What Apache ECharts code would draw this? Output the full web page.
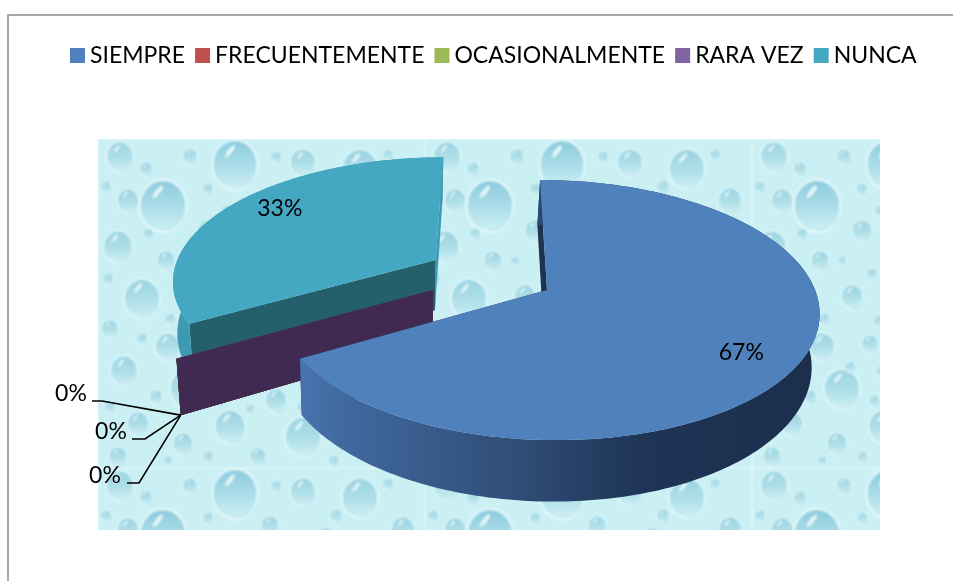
<!DOCTYPE html>
<html>
<head>
<meta charset="utf-8">
<style>html,body{margin:0;padding:0;background:#fff}#c{width:953px;height:581px}</style>
<script src="https://cdn.jsdelivr.net/npm/echarts@6/dist/echarts.min.js"></script>
</head>
<body>
<div id="c"></div>
<script>
// ---- data ----
var categories = ['SIEMPRE', 'FRECUENTEMENTE', 'OCASIONALMENTE', 'RARA VEZ', 'NUNCA'];
var values = [2, 0, 0, 0, 1];
var percentLabels = ['67%', '0%', '0%', '0%', '33%'];

// ---- styles ----
var topColors = ['#4F81BD', '#C0504D', '#9BBB59', '#8064A2', '#45A8C3'];
var faceColors = ['#1D3350', '#6b2b2a', '#55692f', '#402A52', '#23606C'];
var endFaceColors = ['#1D3350', '#6b2b2a', '#55692f', '#402A52', '#3E9AB3'];
var wallColors = ['', '#8e3b39', '#6f8a40', '#54406f', '#3E9AB3'];
// ---- layout of the projected, exploded pie ----
var CX = 547, CY = 290, RX = 268, RY = 127, K = 0.154, SKEW = 8, H = 52, XC = 400, CONV = 0.019;
var explode = [[0, 0], [-0.425, 0], [-0.425, 0], [-0.425, 0], [-0.424, -0.245]];
var drawOrder = [6, 2, 3, 4, 1];
var labelAnchor = [[0.66, 0.46], null, null, null, [-1.085, -0.71]];
var leaders = [null,
  {tx: 111, ty: 432, elbow: [145, 439], end: [132, 439]},
  {tx: 105, ty: 476, elbow: [139, 483], end: [127, 483]},
  {tx: 71, ty: 394, elbow: [102, 401], end: [92, 401]},
  null];

var total = values.reduce(function (a, b) { return a + b; }, 0);

function project(u, v, z) {
  var s = 1 / (1 - K * v);
  var x = CX + RX * u * s + SKEW * v * s;
  var y = CY + RY * v * s;
  if (z) { x = x - (x - XC) * CONV; y = y + H * s; }
  return [x, y];
}
function rim(idx, theta, z) {
  var e = explode[idx];
  return project(Math.sin(theta) + e[0], -Math.cos(theta) + e[1], z);
}
function apex(idx, z) { return project(explode[idx][0], explode[idx][1], z); }

function renderSlice(params) {
  var i = params.seriesIndex;
  var before = 0;
  for (var n = 0; n < i; n++) before += values[n];
  var a0 = before / total * Math.PI * 2;
  var a1 = (before + values[i]) / total * Math.PI * 2;
  var steps = Math.max(1, Math.round((a1 - a0) / 0.02));
  var topPts = [], botPts = [];
  for (var k = 0; k <= steps; k++) {
    var t = a0 + (a1 - a0) * k / steps;
    topPts.push(rim(i, t, false));
    botPts.push(rim(i, t, true));
  }
  var kids = [];
  var wallFill = i === 0 ? new echarts.graphic.LinearGradient(0, 0, 1, 0, [
    {offset: 0, color: '#4873AE'}, {offset: 0.12, color: '#3F659A'},
    {offset: 0.42, color: '#2F4D76'}, {offset: 0.65, color: '#1F3556'}, {offset: 1, color: '#1B2E4C'}
  ]) : wallColors[i];
  // cut faces first, then the outer wall, then the top
  var ap = apex(i, false), apb = apex(i, true);
  kids.push({type: 'polygon', shape: {points: [ap, topPts[steps], botPts[steps], apb]}, style: {fill: endFaceColors[i]}});
  kids.push({type: 'polygon', shape: {points: [ap, topPts[0], botPts[0], apb]}, style: {fill: faceColors[i]}});
  if (a1 > a0) {
    kids.push({type: 'polygon', shape: {points: topPts.concat(botPts.slice().reverse())}, style: {fill: wallFill}});
    kids.push({type: 'polygon', shape: {points: [ap].concat(topPts)}, style: {fill: topColors[i]}});
  }
  // labels
  var font = '23px Lato';
  if (labelAnchor[i]) {
    var p = project(labelAnchor[i][0], labelAnchor[i][1], false);
    kids.push({type: 'text', style: {x: p[0], y: p[1], text: percentLabels[i], fill: '#000', font: font, align: 'center', verticalAlign: 'middle'}, z2: 50});
  }
  if (leaders[i]) {
    var L = leaders[i];
    var tip = rim(i, a0, true);
    kids.push({type: 'polyline', shape: {points: [tip, L.elbow, L.end]}, style: {stroke: '#000', lineWidth: 1.6, fill: 'none'}, z2: 40});
    kids.push({type: 'text', style: {x: L.tx, y: L.ty, text: percentLabels[i], fill: '#000', font: font, align: 'center', verticalAlign: 'middle'}, z2: 50});
  }
  return {type: 'group', children: kids};
}

// ---- water-drop backdrop texture ----
var dropTile = [
  [65,67,26],[137,26,25],[22,18,15],[205,24,14],[262,30,20],[305,62,13],[92,18,8],[172,58,10],
  [228,72,12],[30,62,12],[110,92,11],[262,88,11],[312,112,16],[20,108,16],[68,122,10],[150,112,18],
  [205,118,10],[250,130,18],[44,160,20],[100,158,12],[155,172,22],[212,165,14],[290,165,14],[12,190,9],
  [70,208,14],[118,205,9],[260,204,18],[205,210,20],[310,215,11],[26,232,15],[150,238,11],[90,250,20],
  [178,262,12],[228,258,13],[280,258,12],[320,270,10],[40,285,12],[132,288,17],[205,298,20],[262,302,13],
  [85,305,11],[310,310,14],[20,318,10],[160,318,9],
  [48,30,7],[110,50,6],[178,18,6],[238,48,7],[290,16,6],[8,48,6],[50,95,6],[90,122,5],[128,72,6],[192,90,7],
  [232,100,6],[288,112,7],[120,135,6],[184,140,6],[222,140,5],[296,135,6],[10,140,6],[72,180,6],[126,182,6],
  [188,192,7],[236,185,6],[318,188,6],[44,200,6],[98,228,6],[128,232,5],[178,230,6],[232,232,6],[288,232,7],
  [58,258,7],[122,262,6],[152,270,5],[204,268,6],[254,270,6],[300,288,6],[12,268,6],[70,322,5],[110,318,6],[236,322,6]
];
function makeTile() {
  var raw = document.createElement('canvas');
  raw.width = 327; raw.height = 329;
  var g = raw.getContext('2d');
  g.fillStyle = '#CBF0F4';
  g.fillRect(0, 0, 327, 329);
  dropTile.forEach(function (d) {
    var x = d[0], y = d[1], r = d[2];
    var strong = r >= 24;
    var lg = g.createLinearGradient(x, y - r, x, y + r);
    lg.addColorStop(0, strong ? '#8CCADE' : '#9AD3E2');
    lg.addColorStop(0.55, strong ? '#AEDFEA' : '#B0E0E9');
    lg.addColorStop(1, '#CFF0F4');
    g.beginPath(); g.ellipse(x, y, r * 0.9, r, 0, 0, Math.PI * 2);
    g.fillStyle = lg; g.fill();
    g.lineWidth = Math.max(1, r * 0.09);
    g.strokeStyle = 'rgba(232,250,252,0.85)';
    g.stroke();
    g.beginPath(); g.ellipse(x - r * 0.2, y - r * 0.55, r * 0.3, r * 0.09, -0.9, 0, Math.PI * 2);
    g.fillStyle = 'rgba(240,253,254,0.85)'; g.fill();
    g.beginPath(); g.arc(x, y, r * 0.95, 0.4, 1.6);
    g.strokeStyle = 'rgba(130,190,205,0.35)'; g.lineWidth = 1; g.stroke();
  });
  var c = document.createElement('canvas');
  c.width = 327; c.height = 329;
  var h = c.getContext('2d');
  h.filter = 'blur(0.9px)';
  for (var ox = -1; ox <= 1; ox++) {
    for (var oy = -1; oy <= 1; oy++) h.drawImage(raw, ox * 327, oy * 329);
  }
  return c;
}

var chart = echarts.init(document.getElementById('c'), null, {renderer: 'canvas'});
chart.setOption({
  animation: false,
  backgroundColor: '#fff',
  color: topColors,
  legend: {
    data: categories.map(function (name, i) {
      return i === 0 ? {name: name, textStyle: {padding: [0, 4, 0, 0]}} : {name: name};
    }),
    left: 65, top: 39,
    icon: 'rect', itemWidth: 15, itemHeight: 15, itemGap: 10,
    textStyle: {fontFamily: 'Lato', fontSize: 23, color: '#000'},
    selectedMode: false
  },
  graphic: [
    {type: 'polyline', z: 0, shape: {points: [[953, 15], [8, 15], [8, 581]]}, style: {stroke: '#8C8C8C', lineWidth: 1.5, fill: 'none'}},
    {type: 'rect', z: 0, x: 98, y: 139, shape: {x: 0, y: 0, width: 782, height: 391},
      style: {fill: {image: makeTile(), repeat: 'repeat'}}}
  ],
  series: categories.map(function (name, i) {
    return {
      type: 'custom', name: name, z: drawOrder[i] + 1,
      coordinateSystem: 'none', silent: true,
      itemStyle: {color: topColors[i]},
      renderItem: renderSlice, data: [[values[i]]]
    };
  })
});
</script>
</body>
</html>
